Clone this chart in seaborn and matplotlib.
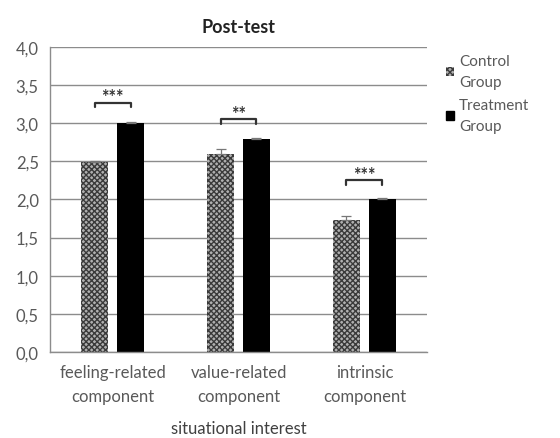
import numpy as np
import pandas as pd
import matplotlib
matplotlib.use("Agg")
import matplotlib.pyplot as plt
import seaborn as sns
from matplotlib.ticker import FuncFormatter, FixedLocator
from matplotlib.patches import Patch

# datos
categorias = ["feeling-related\ncomponent", "value-related\ncomponent", "intrinsic\ncomponent"]
grupos = ["Control\nGroup", "Treatment\nGroup"]
control = [2.49, 2.60, 1.73]
tratamiento = [3.00, 2.79, 2.00]
err_control = [0.02, 0.06, 0.05]
err_tratamiento = [0.02, 0.02, 0.02]
estrellas = ["***", "**", "***"]
altura_corchete = [3.27, 3.05, 2.25]

df = pd.DataFrame({
    "componente": categorias * 2,
    "grupo": [grupos[0]] * 3 + [grupos[1]] * 3,
    "valor": control + tratamiento,
})

sns.set_style("white")
plt.rcParams["font.family"] = ["Lato", "DejaVu Sans"]
plt.rcParams["hatch.linewidth"] = 1.0

gris = "#595959"
trama = "#3a3a3a"
fig = plt.figure(figsize=(5.6, 4.39), dpi=100)
ax = fig.add_axes([0.089, 0.196, 0.674, 0.695])

sns.barplot(data=df, x="componente", y="valor", hue="grupo", order=categorias,
            hue_order=grupos, palette=["#b0b0b0", "black"], width=0.57, gap=0.24,
            errorbar=None, ax=ax, legend=False, linewidth=0)

# trama de puntos para el grupo control + barras de error
for cont, errs in zip(ax.containers, [err_control, err_tratamiento]):
    for bar, e in zip(cont, errs):
        x = bar.get_x() + bar.get_width() / 2
        ax.errorbar(x, bar.get_height(), yerr=[[0], [e]], color="#777777",
                    capsize=3.5, elinewidth=0.9, capthick=0.9, zorder=3)
for bar in ax.containers[0]:
    bar.set_hatch("xxxxxx")
    bar.set_edgecolor(trama)
    bar.set_linewidth(0)

# corchetes de significación
for i, s in enumerate(estrellas):
    b1 = ax.containers[0][i]
    b2 = ax.containers[1][i]
    x1 = b1.get_x() + b1.get_width() / 2
    x2 = b2.get_x() + b2.get_width() / 2
    y = altura_corchete[i]
    ax.plot([x1, x1, x2, x2], [y - 0.06, y, y, y - 0.06], color="#333333", lw=1.6)
    ax.text((x1 + x2) / 2, y - 0.035, s, ha="center", va="bottom", fontsize=13,
            fontweight="bold", color="#333333")

ax.set_ylim(0, 4)
ax.set_xlim(-0.5, 2.5)
ax.yaxis.set_major_locator(FixedLocator(np.arange(0, 4.01, 0.5)))
ax.yaxis.set_major_formatter(FuncFormatter(lambda v, p: f"{v:.1f}".replace(".", ",")))
ax.grid(axis="y", color="#8c8c8c", lw=1)
ax.set_axisbelow(True)
for s in ["top", "right"]:
    ax.spines[s].set_visible(False)
for s in ["left", "bottom"]:
    ax.spines[s].set_color("#8c8c8c")
    ax.spines[s].set_linewidth(1)

ax.set_xticks([0, 1, 2])
ax.set_xticklabels(categorias, linespacing=1.55)
ax.xaxis.set_minor_locator(FixedLocator([0.5, 1.5, 2.5]))
ax.tick_params(axis="x", which="major", length=0, pad=9, labelsize=12, labelcolor=gris)
ax.tick_params(axis="x", which="minor", length=5, width=1, color="#8c8c8c", direction="out")
ax.tick_params(axis="y", length=5, width=1, color="#8c8c8c", labelsize=12, labelcolor=gris, pad=3)
ax.set_xlabel("")
ax.set_ylabel("")
fig.text(0.426, 0.022, "situational interest", ha="center", va="center",
         fontsize=12, color="#404040")
ax.set_title("Post-test", fontsize=13, fontweight="bold", color="#222222", pad=11)

handles = [Patch(facecolor="#b0b0b0", edgecolor=trama, hatch="xxxxxx", lw=0),
           Patch(facecolor="black", edgecolor="black")]
fig.legend(handles, grupos, loc="upper left", bbox_to_anchor=(0.772, 0.905), frameon=False,
           handlelength=0.55, handleheight=0.55, handletextpad=0.3,
           labelspacing=0.6, labelcolor=gris, prop={"size": 11})
for t in fig.legends[0].get_texts():
    t.set_linespacing(1.6)

fig.savefig("out.png", dpi=100)
